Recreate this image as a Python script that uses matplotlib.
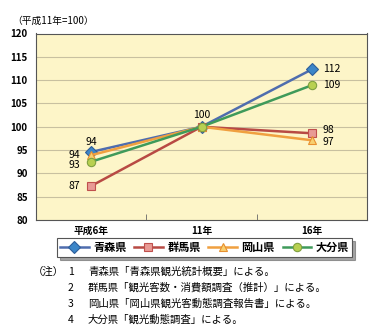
import matplotlib
matplotlib.use("Agg")
import matplotlib.pyplot as plt

plt.rcParams['font.family'] = ['Noto Sans CJK JP', 'DejaVu Sans']

years = ["平成6年", "11年", "16年"]
aomori = [94.6, 100, 112.3]
gunma = [87.3, 100, 98.6]
okayama = [93.9, 100, 97.1]
oita = [92.5, 100, 108.9]
labels_aomori = ["94", "100", "112"]
labels_gunma = ["87", "", "98"]
labels_okayama = ["94", "", "97"]
labels_oita = ["93", "", "109"]
yticks = [80, 85, 90, 95, 100, 105, 110, 115, 120]
note_nums = ["1", "2", "3", "4"]
note_texts = [
    "青森県「青森県観光統計概要」による。",
    "群馬県「観光客数・消費額調査（推計）」による。",
    "岡山県「岡山県観光客動態調査報告書」による。",
    "大分県「観光動態調査」による。",
]

fig = plt.figure(figsize=(3.79, 3.31), dpi=100)
ax = fig.add_axes([36 / 379, 1 - 220 / 331, 331 / 379, 186.5 / 331])
ax.set_facecolor("#FDF5C8")

x = list(range(len(years)))
series = [
    ("青森県", aomori, "#4F6DAE", "D", "#3C86C8", "#2E5E9A"),
    ("群馬県", gunma, "#B84A44", "s", "#E89A94", "#C0504D"),
    ("岡山県", okayama, "#F0A040", "^", "#F8D070", "#E89030"),
    ("大分県", oita, "#3F9A5A", "o", "#B8D050", "#7FA040"),
]
for name, vals, lc, mk, mfc, mec in series:
    ax.plot(x, vals, color=lc, linewidth=1.8, marker=mk, markersize=6,
            markerfacecolor=mfc, markeredgecolor=mec, markeredgewidth=0.8,
            label=name, zorder=3)

# data labels
fs = 7.5
ax.text(0, aomori[0] + 1.0, labels_aomori[0], ha="center", va="bottom", fontsize=fs)
ax.text(-0.1, okayama[0] + 0.1, labels_okayama[0], ha="right", va="center", fontsize=fs)
ax.text(-0.1, oita[0] - 0.7, labels_oita[0], ha="right", va="center", fontsize=fs)
ax.text(-0.1, gunma[0], labels_gunma[0], ha="right", va="center", fontsize=fs)
ax.text(1, aomori[1] + 1.5, labels_aomori[1], ha="center", va="bottom", fontsize=fs)
ax.text(2.1, aomori[2], labels_aomori[2], ha="left", va="center", fontsize=fs)
ax.text(2.1, oita[2], labels_oita[2], ha="left", va="center", fontsize=fs)
ax.text(2.1, gunma[2] + 0.8, labels_gunma[2], ha="left", va="center", fontsize=fs)
ax.text(2.1, okayama[2] - 0.4, labels_okayama[2], ha="left", va="center", fontsize=fs)

ax.set_xlim(-0.5, 2.5)
ax.set_ylim(80, 120)
ax.set_yticks(yticks)
ax.set_yticklabels([str(v) for v in yticks], fontsize=7, fontweight="bold")
ax.set_xticks(x)
ax.set_xticklabels(years, fontsize=7, fontweight="bold")
ax.tick_params(axis="x", length=0, pad=4)
ax.set_xticks([0.5, 1.5], minor=True)
ax.tick_params(axis="x", which="minor", direction="in", length=4, color="#666")
ax.tick_params(axis="y", length=0, pad=6)
ax.grid(True, axis="y", color="#C8C0A0", linewidth=0.8)
ax.set_axisbelow(True)
for s in ax.spines.values():
    s.set_color("#555")
    s.set_linewidth(0.8)

fig.text(12 / 379, 1 - 21 / 331, "（平成11年=100）", fontsize=7, va="center")

leg = fig.legend(loc="lower left", mode="expand", ncol=4,
                 bbox_to_anchor=(57 / 379, 1 - 257 / 331, 295 / 379, 18 / 331),
                 frameon=True, fancybox=False, shadow=True,
                 handlelength=2.6, columnspacing=1.0, handletextpad=0.4,
                 borderpad=0.25, borderaxespad=0,
                 prop={"weight": "bold", "size": 8})
leg.get_frame().set_edgecolor("#555")
leg.get_frame().set_linewidth(0.8)

fig.text(33 / 379, 1 - 272 / 331, "（注）", fontsize=7.5, va="center")
for i, (num, line) in enumerate(zip(note_nums, note_texts)):
    yy = 1 - (272 + i * 16) / 331
    fig.text(68 / 379, yy, num, fontsize=7.5, va="center")
    fig.text(88 / 379, yy, line, fontsize=7.5, va="center")

fig.savefig("out.png", dpi=100)
